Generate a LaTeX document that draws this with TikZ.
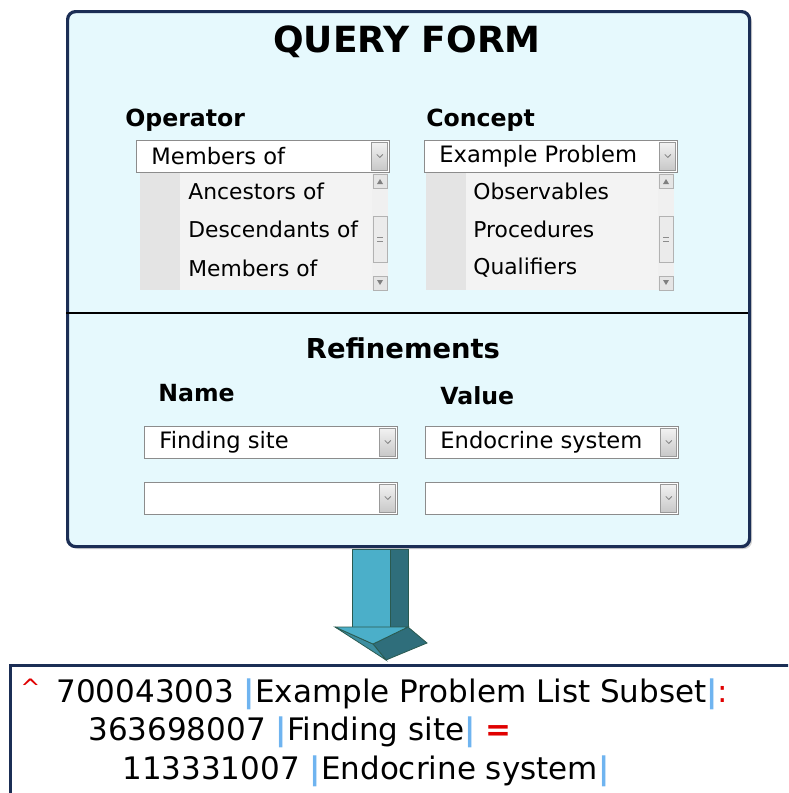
\documentclass[tikz,border=0pt]{standalone}
\usepackage{fontspec}
\setmainfont{DejaVu Sans}
\usetikzlibrary{positioning}
\definecolor{formbg}{HTML}{E6F9FD}
\definecolor{navy}{HTML}{1B2E55}
\definecolor{teal1}{HTML}{4BAFC9}
\definecolor{teal2}{HTML}{2F6E7B}
\definecolor{teal3}{HTML}{3D8EA0}
\definecolor{arrowline}{HTML}{2A5A50}
\definecolor{listbg}{HTML}{F3F3F3}
\definecolor{listcol}{HTML}{E4E4E4}
\definecolor{barblue}{HTML}{6FB4F0}
\definecolor{codered}{HTML}{E00000}
\newcommand{\sepbar}{\textcolor{barblue}{\textbf{|}}}

\begin{document}
\begin{tikzpicture}[x=0.5pt,y=-0.5pt]
\tikzstyle{heading} = [font=\fontsize{11.8}{14}\selectfont\bfseries, anchor=base west, inner sep=0]
\tikzstyle{dropbox} = [draw=black!45, fill=white, minimum width=126.5pt, minimum height=16pt, anchor=north west, inner sep=0]
\tikzstyle{choice} = [font=\fontsize{11.3}{13}\selectfont, anchor=west, inner sep=0]
\tikzstyle{item} = [font=\fontsize{10.9}{13}\selectfont, anchor=west, inner sep=0]
\tikzstyle{codeline} = [font=\fontsize{15.5}{18}\selectfont, anchor=base west, inner sep=0]

\useasboundingbox (0,0) rectangle (788,793);
\clip (0,0) rectangle (788,793);

% query form
\fill[black!18, rounded corners=4pt] (70,14) rectangle (752,549);
\node[draw=navy, line width=1.6pt, fill=formbg, rounded corners=4pt, anchor=north west, minimum width=341pt, minimum height=267.5pt] (form) at (66,10) {};
\draw[line width=1pt] (66,313) -- (748,313);
\node[font=\fontsize{18}{22}\selectfont\bfseries] (title) at (407,42) {QUERY FORM};

\node[heading] (oplabel) at (125,126) {Operator};
\node[heading] (conlabel) at (426,126) {Concept};
\node[font=\fontsize{13.7}{16}\selectfont\bfseries] (reflabel) at (403,348) {Refinements};
\node[heading] (namelabel) at (158,401) {Name};
\node[heading] (valuelabel) at (440,404) {Value};

% open lists
\foreach \lx/\rx in {140/388, 426/674}
{
  \fill[listbg] (\lx,172) rectangle (\rx,290);
  \fill[listcol] (\lx,172) rectangle (\lx+40,290);
  \fill[black!6] (\rx-16,172) rectangle (\rx,290);
  \draw[black!30, fill=black!10] (\rx-15,174) rectangle (\rx-1,188);
  \fill[black!50] (\rx-11,184) -- (\rx-5,184) -- (\rx-8,179) -- cycle;
  \draw[black!30, fill=black!10] (\rx-15,276) rectangle (\rx-1,290);
  \fill[black!50] (\rx-11,280) -- (\rx-5,280) -- (\rx-8,285) -- cycle;
  \draw[black!30, fill=black!8] (\rx-15,216) rectangle (\rx-1,262);
  \draw[black!45] (\rx-11,237) -- (\rx-5,237) (\rx-11,241) -- (\rx-5,241);
}
\foreach \t [count=\i] in {Ancestors of, Descendants of, Members of}
  \node[item] (opitem\i) at (188,{191+38.5*(\i-1)}) {\t};
\foreach \t [count=\i] in {Observables, Procedures, Qualifiers}
  \node[item] (conitem\i) at (473,{191+38.5*(\i-1)}) {\t};

% drop-down boxes
\foreach \x/\y/\nm/\t in {136/140/opbox/Members of, 424/140/conbox/Example Problem, 144/426/namebox/Finding site, 425/426/valuebox/Endocrine system, 144/482/namebox2/, 425/482/valuebox2/}
{
  \node[dropbox] (\nm) at (\x,\y) {};
  \node[choice] (\nm text) at ([xshift=7.5pt]\nm.west) {\t};
  \draw[black!40, top color=black!5, bottom color=black!22] ([xshift=-9pt,yshift=-1pt]\nm.north east) rectangle ([xshift=-1pt,yshift=1pt]\nm.south east);
  \draw[black!50] ([xshift=-6.5pt,yshift=1pt]\nm.east) -- ([xshift=-5pt,yshift=-0.5pt]\nm.east) -- ([xshift=-3.5pt,yshift=1pt]\nm.east);
}

% result
\node[draw=navy, line width=1.6pt, fill=white, anchor=north west, minimum width=420pt, minimum height=80pt] (output) at (9,664) {};
\node[codeline] (line1) at (20,702) {\textcolor{codered}{\raisebox{3pt}{\fontsize{12}{12}\selectfont\textasciicircum}}\hspace{8pt}700043003 \sepbar Example Problem List Subset\sepbar\textcolor{codered}{:}};
\node[codeline] (line2) at (88,740) {363698007 \sepbar Finding site\sepbar\ \textcolor{codered}{\textbf{=}}};
\node[codeline] (line3) at (122,779) {113331007 \sepbar Endocrine system\sepbar};

% arrow
\filldraw[fill=teal2, draw=arrowline] (390,549) rectangle (408,627);
\filldraw[fill=teal1, draw=arrowline] (352,549) rectangle (390,627);
\filldraw[fill=teal2, draw=arrowline] (373,644) -- (408,627) -- (427,643) -- (386,660) -- cycle;
\filldraw[fill=teal3, draw=arrowline] (335,627) -- (373,644) -- (386,660) -- cycle;
\filldraw[fill=teal1, draw=arrowline] (335,627) -- (408,627) -- (373,644) -- cycle;
\end{tikzpicture}
\end{document}
